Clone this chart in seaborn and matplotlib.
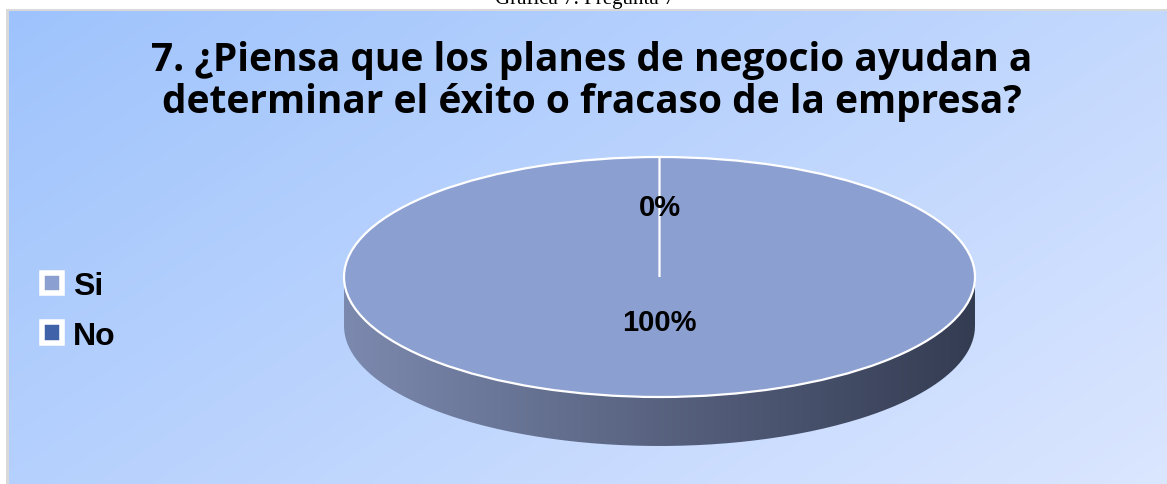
import numpy as np
import matplotlib
matplotlib.use("Agg")
import matplotlib.pyplot as plt
import seaborn as sns
from matplotlib.path import Path
from matplotlib.patches import PathPatch, Rectangle

# ---- data ----
categories = ["Si", "No"]
values = [100, 0]
colors = ["#8b9fd1", "#3f62a9"]
title_lines = ["7. ¿Piensa que los planes de negocio ayudan a",
               "determinar el éxito o fracaso de la empresa?"]
caption = "Gráfica 7. Pregunta 7"

sns.set_theme(style="white")
plt.rcParams['font.family'] = ['Liberation Sans', 'DejaVu Sans']

W, H = 1167, 485
fig = plt.figure(figsize=(W / 100, H / 100), dpi=100)
fig.patch.set_facecolor("white")

def fx(px):
    return px / W

def fy(py):
    return 1 - py / H

# ---- chart area background (gradient) ----
bg = fig.add_axes([fx(9), 0, 1 - fx(9), fy(12)])
bg.set_axis_off()
nx, ny = 300, 120
xx, yy = np.meshgrid(np.linspace(0, 1, nx), np.linspace(0, 1, ny))
t = np.clip(0.62 * xx + 0.38 * yy, 0, 1)
c0 = np.array([158, 195, 252]) / 255
c1 = np.array([219, 230, 255]) / 255
img = c0[None, None, :] * (1 - t[..., None]) + c1[None, None, :] * t[..., None]
bg.imshow(img, aspect="auto", extent=[0, 1, 0, 1], origin="upper", interpolation="bilinear")
bg.set_xlim(0, 1)
bg.set_ylim(0, 1)

# gray frame lines
fig.add_artist(Rectangle((fx(6), 0), fx(3), fy(10), transform=fig.transFigure,
                         facecolor="#d9d9d9", edgecolor="none", zorder=5))
fig.add_artist(Rectangle((fx(6), fy(12)), 1 - fx(6), fy(10) - fy(12), transform=fig.transFigure,
                         facecolor="#d9d9d9", edgecolor="none", zorder=5))

# caption (cut off at the top, as in the source page)
fig.text(fx(585), fy(4), caption, ha="center", va="baseline", fontsize=15,
         family=["Liberation Serif", "DejaVu Serif"], color="black")

# title
for yy_px, line in zip([61, 102], title_lines):
    fig.text(fx(592), fy(yy_px), line, ha="center", va="center", fontsize=28,
             fontweight="bold", family=["Open Sans", "DejaVu Sans"], color="black")

# ---- pie ----
d = 49 / 120
ax = fig.add_axes([fx(344), fy(447), fx(975) - fx(344), (447 - 158) / H])
ax.set_axis_off()

# side (3D depth) with horizontal gradient
tt = np.linspace(np.pi, 2 * np.pi, 200)
lower = np.column_stack([np.cos(tt), np.sin(tt) - d])
upper = np.column_stack([np.cos(tt[::-1]), np.sin(tt[::-1])])
verts = np.vstack([lower, upper, lower[:1]])
side_patch = PathPatch(Path(verts), facecolor="none", edgecolor="none")
ax.add_patch(side_patch)
g = np.linspace(0, 1, 256)[None, :]
cl = np.array([124, 137, 174]) / 255
cr = np.array([52, 60, 82]) / 255
gimg = cl[None, None, :] * (1 - g[..., None]) + cr[None, None, :] * g[..., None]
gim = ax.imshow(gimg, extent=[-1, 1, -1 - d, 0], aspect="auto", zorder=1)
gim.set_clip_path(side_patch)

wedges, texts, autotexts = ax.pie(values, colors=colors, startangle=90, counterclock=False,
                                  autopct="%1.0f%%", radius=1,
                                  wedgeprops=dict(edgecolor="white", linewidth=1.6),
                                  textprops=dict(fontsize=21, fontweight="bold", color="black"))
for w in wedges:
    w.set_zorder(2)
label_y = [-0.375, 0.583]
for a, yv in zip(autotexts, label_y):
    a.set_position((0.0, yv))
    a.set_zorder(3)
ax.set_aspect("auto")
ax.set_xlim(-1, 1)
ax.set_ylim(-1 - d, 1)

# legend
leg = fig.legend(wedges, categories, loc="center left", bbox_to_anchor=(fx(42), fy(312)),
                 frameon=False, prop=dict(size=23, weight="bold"),
                 handlelength=0.62, handleheight=0.62, handletextpad=0.35, labelspacing=0.62,
                 borderpad=0, borderaxespad=0)
for h in leg.legend_handles:
    h.set_edgecolor("white")
    h.set_linewidth(4)
for txt in leg.get_texts():
    txt.set_color("black")

fig.savefig("out.png", dpi=100)
